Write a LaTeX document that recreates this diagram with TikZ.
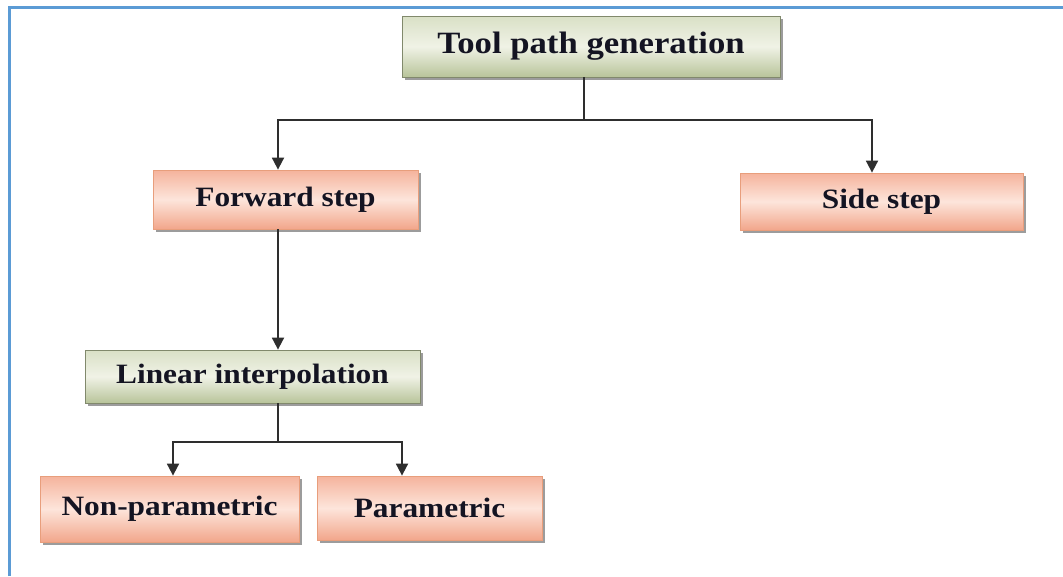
\documentclass[tikz,border=0pt]{standalone}
\usepackage{fontspec}
\setmainfont{Liberation Serif}[FakeStretch=1.12]
\usetikzlibrary{arrows.meta,shadows}

\definecolor{frameblue}{HTML}{5B9BD5}
\definecolor{linegray}{HTML}{2E2E2E}
\definecolor{pinkA}{HTML}{F5B39C}
\definecolor{pinkB}{HTML}{FDE5DB}
\definecolor{pinkC}{HTML}{F2A68B}
\definecolor{greenA}{HTML}{D9E0C6}
\definecolor{greenB}{HTML}{F0F2E6}
\definecolor{greenC}{HTML}{B8C49A}
\definecolor{textnavy}{HTML}{141422}

\tikzset{
  box/.style={draw=#1, line width=0.8pt, inner sep=0pt, align=center,
    text=textnavy, font=\fontsize{28}{32}\selectfont\bfseries,
    drop shadow={shadow xshift=2.5pt, shadow yshift=-2.5pt, fill=black!55, opacity=0.7}},
  pinkbox/.style={box=pinkC!80!brown, top color=pinkA, bottom color=pinkC, middle color=pinkB},
  greenbox/.style={box=greenC!70!black, top color=greenA, bottom color=greenC, middle color=greenB},
  link/.style={draw=linegray, line width=1.8pt},
  arr/.style={link, -{Triangle[length=12pt,width=12pt]}},
}

\begin{document}
\begin{tikzpicture}[x=1pt,y=1pt]
  \useasboundingbox (0,0) rectangle (1063,-576);
  \fill[white] (0,0) rectangle (1063,-576);

  % outer frame: top and left edges only
  \draw[frameblue, line width=3pt] (9.5,-576) -- (9.5,-7.5) -- (1063,-7.5);

  % nodes
  \node[greenbox, minimum width=378pt, minimum height=61pt,
        font=\fontsize{31}{35}\selectfont\bfseries] (top) at (591,-46.5) {Tool path generation};
  \node[pinkbox, minimum width=265pt, minimum height=59pt] (fwd) at (285.5,-199.5) {Forward step};
  \node[pinkbox, minimum width=283pt, minimum height=57pt] (side) at (881.5,-201.5) {Side step};
  \node[greenbox, minimum width=335pt, minimum height=53pt] (lin) at (252.5,-376.5) {Linear interpolation};
  \node[pinkbox, minimum width=259pt, minimum height=66pt] (non) at (169.5,-509) {Non-parametric};
  \node[pinkbox, minimum width=225pt, minimum height=64pt] (par) at (429.5,-508) {Parametric};

  % junction points of the connectors
  \coordinate (j1) at (584,-120);
  \coordinate (xa) at (278,0);
  \coordinate (xs) at (872,0);
  \coordinate (j2) at (278,-442);
  \coordinate (xn) at (173,0);
  \coordinate (xp) at (402,0);

  % connectors
  \draw[link] (top.south -| j1) -- (j1);
  \draw[arr] (j1) -- (j1 -| xa) -- (fwd.north -| xa);
  \draw[arr] (j1) -- (j1 -| xs) -- (side.north -| xs);
  \draw[arr] (fwd.south -| xa) -- (lin.north -| xa);
  \draw[link] (lin.south -| xa) -- (j2);
  \draw[arr] (j2) -- (j2 -| xn) -- (non.north -| xn);
  \draw[arr] (j2) -- (j2 -| xp) -- (par.north -| xp);
\end{tikzpicture}
\end{document}
